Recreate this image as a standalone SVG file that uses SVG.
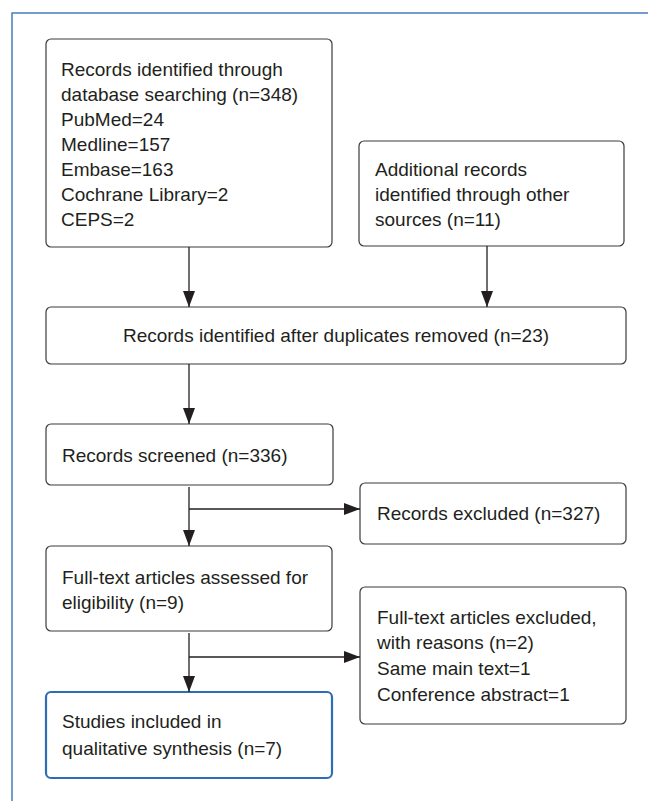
<svg xmlns="http://www.w3.org/2000/svg" width="648" height="801" viewBox="0 0 648 801">
<defs>
<marker id="ah" viewBox="0 0 16 12" refX="16" refY="6" markerWidth="16" markerHeight="12" markerUnits="userSpaceOnUse" orient="auto">
<path d="M0,0 L16,6 L0,12 Z" fill="#231f20"/>
</marker>
<style>
.box{fill:#fff;stroke:#3a3a3a;stroke-width:1.2}
.hl{fill:#fff;stroke:#2e6db4;stroke-width:2.2}
text{font-family:"Liberation Sans",Arial,sans-serif;font-size:19px;fill:#231f20}
.c{stroke:#231f20;stroke-width:1.3;fill:none}
</style>
</defs>
<rect width="648" height="801" fill="#fff"/>
<path d="M12,801 L12,13 L648,13" fill="none" stroke="#4a7cc0" stroke-width="1.5"/>
<g id="n1">
<rect class="box" x="46" y="39" width="286" height="208" rx="5"/>
<text x="61" y="76">Records identified through</text>
<text x="61" y="101">database searching (n=348)</text>
<text x="61" y="126">PubMed=24</text>
<text x="61" y="151">Medline=157</text>
<text x="61" y="176">Embase=163</text>
<text x="61" y="201">Cochrane Library=2</text>
<text x="61" y="226">CEPS=2</text>
</g>
<g id="n2">
<rect class="box" x="359" y="141" width="265" height="105" rx="5"/>
<text x="375" y="176">Additional records</text>
<text x="375" y="201">identified through other</text>
<text x="375" y="226">sources (n=11)</text>
</g>
<g id="n3">
<rect class="box" x="46" y="307" width="580" height="57" rx="5"/>
<text x="336" y="342" text-anchor="middle">Records identified after duplicates removed (n=23)</text>
</g>
<g id="n4">
<rect class="box" x="46" y="424" width="287" height="61" rx="5"/>
<text x="62" y="462">Records screened (n=336)</text>
</g>
<g id="n5">
<rect class="box" x="360" y="483" width="266" height="61" rx="5"/>
<text x="377" y="520">Records excluded (n=327)</text>
</g>
<g id="n6">
<rect class="box" x="46" y="546" width="286" height="85" rx="5"/>
<text x="62" y="584">Full-text articles assessed for</text>
<text x="62" y="609">eligibility (n=9)</text>
</g>
<g id="n7">
<rect class="box" x="360" y="587" width="266" height="137" rx="5"/>
<text x="377" y="624">Full-text articles excluded,</text>
<text x="377" y="649">with reasons (n=2)</text>
<text x="377" y="675">Same main text=1</text>
<text x="377" y="701">Conference abstract=1</text>
</g>
<g id="n8">
<rect class="hl" x="46" y="692" width="286" height="86" rx="5"/>
<text x="62" y="728">Studies included in</text>
<text x="62" y="755">qualitative synthesis (n=7)</text>
</g>
<g id="connectors">
<line class="c" x1="189" y1="247" x2="189" y2="307" marker-end="url(#ah)"/>
<line class="c" x1="487" y1="246" x2="487" y2="307" marker-end="url(#ah)"/>
<line class="c" x1="189" y1="364" x2="189" y2="424" marker-end="url(#ah)"/>
<line class="c" x1="189" y1="487" x2="189" y2="546" marker-end="url(#ah)"/>
<line class="c" x1="189" y1="509" x2="360" y2="509" marker-end="url(#ah)"/>
<line class="c" x1="189" y1="633" x2="189" y2="692" marker-end="url(#ah)"/>
<line class="c" x1="189" y1="657" x2="360" y2="657" marker-end="url(#ah)"/>
</g>
</svg>
